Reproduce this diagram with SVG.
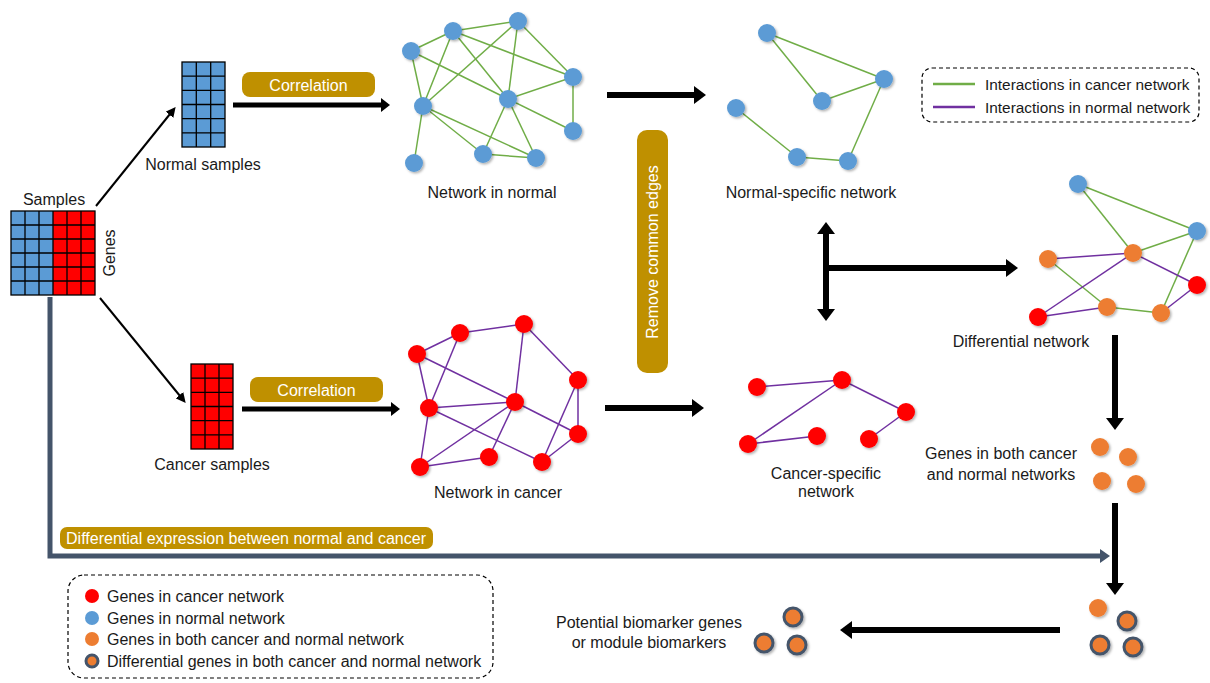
<svg xmlns="http://www.w3.org/2000/svg" width="1210" height="683" viewBox="0 0 1210 683">
<defs>
<style>
text{font-family:"Liberation Sans",Arial,sans-serif;font-size:16px;fill:#1a1a1a}
.m{text-anchor:middle}
.w{fill:#fff;text-anchor:middle}
.gold{fill:#BF9000}
.nb{fill:#5B9BD5}
.nr{fill:#FF0000}
.no{fill:#ED7D31}
.nd{fill:#ED7D31;stroke:#44546A;stroke-width:3}
.eg line{stroke:#70AD47;stroke-width:1.5}
.ep line{stroke:#7030A0;stroke-width:1.5}
.grid{stroke:#000;stroke-width:1.3;fill:none}
.ak{stroke:#000;fill:none}
.dash{fill:none;stroke:#000;stroke-width:1.2;stroke-dasharray:4 3}
.sm{font-size:15.4px}
</style>
<filter id="sh" x="-30%" y="-30%" width="160%" height="160%">
<feDropShadow dx="1.5" dy="1.5" stdDeviation="1.2" flood-color="#000" flood-opacity="0.3"/>
</filter>
<marker id="hs" markerUnits="userSpaceOnUse" viewBox="0 0 9 14" refX="1" refY="7" markerWidth="9" markerHeight="14" orient="auto">
<path d="M0,0 L9,7 L0,14 z" fill="#000"/>
</marker>
<marker id="hb" markerUnits="userSpaceOnUse" viewBox="0 0 12 18" refX="1" refY="9" markerWidth="12" markerHeight="18" orient="auto-start-reverse">
<path d="M0,0 L12,9 L0,18 z" fill="#000"/>
</marker>
<marker id="ht" markerUnits="userSpaceOnUse" viewBox="0 0 10 10" refX="1" refY="5" markerWidth="10" markerHeight="10" orient="auto">
<path d="M0,0 L10,5 L0,10 z" fill="#000"/>
</marker>
<marker id="hg" markerUnits="userSpaceOnUse" viewBox="0 0 10 14" refX="1" refY="7" markerWidth="10" markerHeight="14" orient="auto">
<path d="M0,0 L10,7 L0,14 z" fill="#44546A"/>
</marker>
</defs>

<g id="connectors">
<line class="ak" x1="96" y1="206" x2="170" y2="114" stroke-width="2" marker-end="url(#ht)"/>
<line class="ak" x1="100" y1="298" x2="180" y2="396" stroke-width="2" marker-end="url(#ht)"/>
<line class="ak" x1="233" y1="105" x2="382" y2="105" stroke-width="5" marker-end="url(#hs)"/>
<line class="ak" x1="242" y1="409" x2="392" y2="409" stroke-width="5" marker-end="url(#hs)"/>
<line class="ak" x1="607" y1="95" x2="695" y2="95" stroke-width="6" marker-end="url(#hb)"/>
<line class="ak" x1="605" y1="408" x2="693" y2="408" stroke-width="6" marker-end="url(#hb)"/>
<line class="ak" x1="826" y1="233" x2="826" y2="310" stroke-width="6" marker-start="url(#hb)" marker-end="url(#hb)"/>
<line class="ak" x1="826" y1="268" x2="1007" y2="268" stroke-width="6" marker-end="url(#hb)"/>
<line class="ak" x1="1115" y1="335" x2="1115" y2="419" stroke-width="6" marker-end="url(#hb)"/>
<line class="ak" x1="1115" y1="503" x2="1115" y2="584" stroke-width="6" marker-end="url(#hb)"/>
<line class="ak" x1="1060" y1="630" x2="851" y2="630" stroke-width="6" marker-end="url(#hb)"/>
<path d="M50,297 V556 H1101" fill="none" stroke="#44546A" stroke-width="5" marker-end="url(#hg)"/>
</g>

<g id="samples-matrix">
<rect x="11" y="211" width="42" height="84" class="nb"/>
<rect x="53" y="211" width="42" height="84" class="nr"/>
<path class="grid" d="M25,211V295M39,211V295M53,211V295M67,211V295M81,211V295M11,225H95M11,239H95M11,253H95M11,267H95M11,281H95"/>
<rect x="11" y="211" width="84" height="84" class="grid"/>
<text x="54" y="205" class="m">Samples</text>
<text transform="translate(115,253) rotate(-90)" class="m">Genes</text>
</g>

<g id="normal-samples">
<rect x="182" y="62" width="43" height="85" class="nb"/>
<path class="grid" d="M196.3,62V147M210.7,62V147M182,76.2H225M182,90.3H225M182,104.5H225M182,118.7H225M182,132.8H225"/>
<rect x="182" y="62" width="43" height="85" class="grid"/>
<text x="203" y="170" class="m">Normal samples</text>
</g>

<g id="cancer-samples">
<rect x="191" y="364" width="42" height="85" class="nr"/>
<path class="grid" d="M205,364V449M219,364V449M191,378.2H233M191,392.3H233M191,406.5H233M191,420.7H233M191,434.8H233"/>
<rect x="191" y="364" width="42" height="85" class="grid"/>
<text x="212" y="470" class="m">Cancer samples</text>
</g>

<g id="correlation-normal">
<rect x="242" y="72" width="133" height="25" rx="8" class="gold"/>
<text x="308.5" y="90.5" class="w">Correlation</text>
</g>
<g id="correlation-cancer">
<rect x="250" y="377" width="133" height="25" rx="8" class="gold"/>
<text x="316.5" y="395.5" class="w">Correlation</text>
</g>

<g id="network-normal">
<g class="eg">
<line x1="453" y1="31" x2="518" y2="21"/><line x1="411" y1="51" x2="453" y2="31"/>
<line x1="453" y1="31" x2="423" y2="106"/><line x1="453" y1="31" x2="508" y2="99"/>
<line x1="453" y1="31" x2="573" y2="77"/><line x1="518" y1="21" x2="423" y2="106"/>
<line x1="518" y1="21" x2="508" y2="99"/><line x1="518" y1="21" x2="573" y2="77"/>
<line x1="411" y1="51" x2="423" y2="106"/><line x1="411" y1="51" x2="508" y2="99"/>
<line x1="573" y1="77" x2="508" y2="99"/><line x1="573" y1="77" x2="573" y2="131"/>
<line x1="508" y1="99" x2="573" y2="131"/><line x1="423" y1="106" x2="414" y2="163"/>
<line x1="423" y1="106" x2="483" y2="154"/><line x1="423" y1="106" x2="536" y2="158"/>
<line x1="508" y1="99" x2="483" y2="154"/><line x1="508" y1="99" x2="536" y2="158"/>
<line x1="483" y1="154" x2="536" y2="158"/>
</g>
<g class="nb" filter="url(#sh)">
<circle cx="453" cy="31" r="9"/><circle cx="518" cy="21" r="9"/><circle cx="411" cy="51" r="9"/>
<circle cx="573" cy="77" r="9"/><circle cx="423" cy="106" r="9"/><circle cx="508" cy="99" r="9"/>
<circle cx="573" cy="131" r="9"/><circle cx="483" cy="154" r="9"/><circle cx="536" cy="158" r="9"/>
<circle cx="414" cy="163" r="9"/>
</g>
<text x="492" y="198" class="m">Network in normal</text>
</g>

<g id="network-cancer">
<g class="ep">
<line x1="460" y1="333" x2="524" y2="324"/><line x1="417" y1="354" x2="460" y2="333"/>
<line x1="460" y1="333" x2="429" y2="408"/><line x1="524" y1="324" x2="515" y2="402"/>
<line x1="524" y1="324" x2="578" y2="380"/><line x1="417" y1="354" x2="429" y2="408"/>
<line x1="417" y1="354" x2="515" y2="402"/><line x1="429" y1="408" x2="515" y2="402"/>
<line x1="429" y1="408" x2="542" y2="462"/><line x1="429" y1="408" x2="420" y2="467"/>
<line x1="515" y1="402" x2="420" y2="467"/><line x1="515" y1="402" x2="489" y2="457"/>
<line x1="515" y1="402" x2="578" y2="434"/><line x1="420" y1="467" x2="489" y2="457"/>
<line x1="578" y1="380" x2="578" y2="434"/><line x1="578" y1="380" x2="542" y2="462"/>
<line x1="578" y1="434" x2="542" y2="462"/>
</g>
<g class="nr" filter="url(#sh)">
<circle cx="460" cy="333" r="9"/><circle cx="524" cy="324" r="9"/><circle cx="417" cy="354" r="9"/>
<circle cx="578" cy="380" r="9"/><circle cx="429" cy="408" r="9"/><circle cx="515" cy="402" r="9"/>
<circle cx="578" cy="434" r="9"/><circle cx="489" cy="457" r="9"/><circle cx="542" cy="462" r="9"/>
<circle cx="420" cy="467" r="9"/>
</g>
<text x="498" y="498" class="m">Network in cancer</text>
</g>

<g id="remove-common-edges">
<rect x="637" y="130" width="31" height="243" rx="10" class="gold"/>
<text transform="translate(658,252) rotate(-90)" class="w">Remove common edges</text>
</g>

<g id="normal-specific">
<g class="eg">
<line x1="767" y1="33" x2="884" y2="79"/><line x1="767" y1="33" x2="822" y2="101"/>
<line x1="822" y1="101" x2="884" y2="79"/><line x1="884" y1="79" x2="848" y2="161"/>
<line x1="736" y1="108" x2="797" y2="157"/><line x1="797" y1="157" x2="848" y2="161"/>
</g>
<g class="nb" filter="url(#sh)">
<circle cx="767" cy="33" r="9"/><circle cx="884" cy="79" r="9"/><circle cx="822" cy="101" r="9"/>
<circle cx="736" cy="108" r="9"/><circle cx="797" cy="157" r="9"/><circle cx="848" cy="161" r="9"/>
</g>
<text x="811" y="198" class="m">Normal-specific network</text>
</g>

<g id="cancer-specific">
<g class="ep">
<line x1="757" y1="387" x2="842" y2="380"/><line x1="842" y1="380" x2="748" y2="444"/>
<line x1="748" y1="444" x2="817" y2="436"/><line x1="842" y1="380" x2="906" y2="412"/>
<line x1="906" y1="412" x2="869" y2="439"/>
</g>
<g class="nr" filter="url(#sh)">
<circle cx="757" cy="387" r="9"/><circle cx="842" cy="380" r="9"/><circle cx="906" cy="412" r="9"/>
<circle cx="748" cy="444" r="9"/><circle cx="817" cy="436" r="9"/><circle cx="869" cy="439" r="9"/>
</g>
<text x="826" y="479" class="m">Cancer-specific</text>
<text x="826" y="497" class="m">network</text>
</g>

<g id="differential-network">
<g class="eg">
<line x1="1078" y1="184" x2="1197" y2="231"/><line x1="1078" y1="184" x2="1133" y2="253"/>
<line x1="1133" y1="253" x2="1197" y2="231"/><line x1="1197" y1="231" x2="1161" y2="313"/>
<line x1="1048" y1="259" x2="1107" y2="307"/><line x1="1107" y1="307" x2="1161" y2="313"/>
</g>
<g class="ep">
<line x1="1048" y1="259" x2="1133" y2="253"/><line x1="1133" y1="253" x2="1038" y2="317"/>
<line x1="1133" y1="253" x2="1197" y2="285"/><line x1="1038" y1="317" x2="1107" y2="307"/>
<line x1="1161" y1="313" x2="1197" y2="285"/>
</g>
<g filter="url(#sh)">
<circle cx="1078" cy="184" r="9" class="nb"/><circle cx="1197" cy="231" r="9" class="nb"/>
<circle cx="1133" cy="253" r="9" class="no"/><circle cx="1048" cy="259" r="9" class="no"/>
<circle cx="1197" cy="285" r="9" class="nr"/><circle cx="1038" cy="317" r="9" class="nr"/>
<circle cx="1107" cy="307" r="9" class="no"/><circle cx="1161" cy="313" r="9" class="no"/>
</g>
<text x="1021" y="347" class="m">Differential network</text>
</g>

<g id="genes-both">
<g class="no" filter="url(#sh)">
<circle cx="1100" cy="447" r="9"/><circle cx="1128" cy="457" r="9"/>
<circle cx="1102" cy="481" r="9"/><circle cx="1136" cy="484" r="9"/>
</g>
<text x="1001" y="459" class="m">Genes in both cancer</text>
<text x="1001" y="480" class="m">and normal networks</text>
</g>

<g id="differential-genes">
<g filter="url(#sh)">
<circle cx="1098" cy="608" r="9" class="no"/>
<circle cx="1127" cy="621" r="9" class="nd"/>
<circle cx="1100" cy="645" r="9" class="nd"/>
<circle cx="1133" cy="647" r="9" class="nd"/>
</g>
</g>

<g id="biomarkers">
<g filter="url(#sh)">
<circle cx="793" cy="617" r="9" class="nd"/>
<circle cx="764" cy="643" r="9" class="nd"/>
<circle cx="797" cy="645" r="9" class="nd"/>
</g>
<text x="649" y="628" class="m">Potential biomarker genes</text>
<text x="649" y="648" class="m">or module biomarkers</text>
</g>

<g id="differential-expression">
<rect x="60" y="527" width="373" height="22" rx="7" class="gold"/>
<text x="246" y="543.5" class="w">Differential expression between normal and cancer</text>
</g>

<g id="legend-edges">
<rect x="922" y="68" width="277" height="54" rx="10" class="dash"/>
<line x1="933" y1="84" x2="975" y2="84" stroke="#70AD47" stroke-width="2.5"/>
<line x1="933" y1="107" x2="975" y2="107" stroke="#7030A0" stroke-width="2.5"/>
<text x="985" y="90" class="sm">Interactions in cancer network</text>
<text x="985" y="113" class="sm">Interactions in normal network</text>
</g>

<g id="legend-genes">
<rect x="68" y="575" width="425" height="103" rx="16" class="dash"/>
<circle cx="92" cy="596" r="7" class="nr"/>
<circle cx="92" cy="618" r="7" class="nb"/>
<circle cx="92" cy="639" r="7" class="no"/>
<circle cx="92" cy="661" r="6" class="nd" stroke-width="2.5"/>
<text x="107" y="602">Genes in cancer network</text>
<text x="107" y="624">Genes in normal network</text>
<text x="107" y="645">Genes in both cancer and normal network</text>
<text x="107" y="667">Differential genes in both cancer and normal network</text>
</g>
</svg>
